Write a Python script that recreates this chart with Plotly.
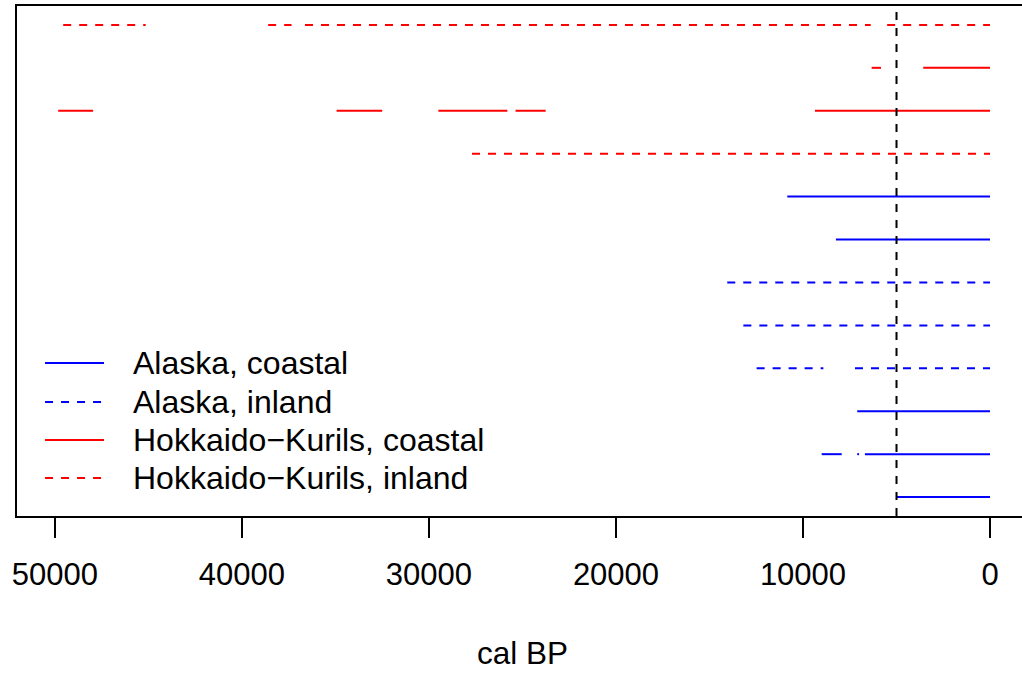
import plotly.graph_objects as go

# ---- data ----
# rows numbered from top (1) to bottom (12); y value = 13 - row
row_group = ["HK_inland", "HK_coastal", "HK_coastal", "HK_inland",
             "AK_coastal", "AK_coastal", "AK_inland", "AK_inland",
             "AK_inland", "AK_coastal", "AK_coastal", "AK_coastal"]
seg_row = [1, 1, 1, 1,
           2, 2,
           3, 3, 3, 3, 3,
           4,
           5, 6, 7, 8,
           9, 9,
           10,
           11, 11, 11,
           12]
seg_start = [49560, 38600, 36630, 5500,
             6330, 3570,
             49830, 34940, 29500, 25370, 9360,
             27700,
             10840, 8240, 14050, 13190,
             12480, 7220,
             7100,
             9000, 7100, 6690,
             5000]
seg_end = [45150, 37350, 6380, 0,
           5830, 0,
           47960, 32500, 25810, 23760, 0,
           0,
           0, 0, 0, 0,
           8910, 0,
           0,
           7930, 7000, 0,
           0]
ref_line = 5000
x_ticks = [50000, 40000, 30000, 20000, 10000, 0]
x_tick_labels = ["50000", "40000", "30000", "20000", "10000", "0"]
x_title = "cal BP"

groups = ["AK_coastal", "AK_inland", "HK_coastal", "HK_inland"]
group_labels = ["Alaska, coastal", "Alaska, inland",
                "Hokkaido\u2212Kurils, coastal", "Hokkaido\u2212Kurils, inland"]
group_color = {"AK_coastal": "#0000FF", "AK_inland": "#0000FF",
               "HK_coastal": "#FF0000", "HK_inland": "#FF0000"}
group_dash = {"AK_coastal": "solid", "AK_inland": "8px,8px",
              "HK_coastal": "solid", "HK_inland": "8px,8px"}

FONT = "Liberation Sans, Arial, Helvetica, sans-serif"
LW = 2

fig = go.Figure()

for g in groups:
    xs, ys = [], []
    for r, s, e in zip(seg_row, seg_start, seg_end):
        if row_group[r - 1] != g:
            continue
        y = 13 - r
        xs += [s, e, None]
        ys += [y, y, None]
    fig.add_trace(go.Scatter(
        x=xs, y=ys, mode="lines", showlegend=False, hoverinfo="skip",
        line=dict(color=group_color[g], width=LW, dash=group_dash[g]),
    ))

# reference vertical dashed line
fig.add_shape(type="line", xref="x", yref="paper", x0=ref_line, x1=ref_line,
              y0=0, y1=1, line=dict(color="black", width=LW, dash="8px,8px"))

# legend (R style, no box)
leg_y = [0.300, 0.2235, 0.149, 0.0745]
for g, lab, yy in zip(groups, group_labels, leg_y):
    fig.add_shape(type="line", xref="paper", yref="paper",
                  x0=0.0279, x1=0.0866, y0=yy, y1=yy,
                  line=dict(color=group_color[g], width=LW, dash=group_dash[g]))
    fig.add_annotation(xref="paper", yref="paper", x=(131 - 17) / 1005, y=yy,
                       text=lab, showarrow=False, xanchor="left", yanchor="middle",
                       font=dict(family=FONT, size=32, color="black"))

# x title
fig.add_annotation(xref="paper", yref="paper", x=(522 - 17) / 1005, y=-(653 - 516) / 510,
                   text=x_title, showarrow=False, xanchor="center", yanchor="middle",
                   font=dict(family=FONT, size=31.5, color="black"))

fig.update_layout(
    width=1022, height=673,
    margin=dict(l=17, r=0, t=6, b=157),
    paper_bgcolor="white", plot_bgcolor="white",
    font=dict(family=FONT, size=31, color="black"),
    xaxis=dict(range=[52030, -1711], tickvals=x_ticks, ticktext=x_tick_labels,
               ticks="outside", ticklen=20, tickwidth=LW, tickcolor="black",
               ticklabelstandoff=10,
               showline=True, linecolor="black", linewidth=LW, mirror=True,
               showgrid=False, zeroline=False,
               tickfont=dict(family=FONT, size=31, color="black")),
    yaxis=dict(range=[0.56, 12.44], showticklabels=False, ticks="",
               showline=True, linecolor="black", linewidth=LW, mirror=False,
               showgrid=False, zeroline=False),
)

fig.write_html("out.html")
